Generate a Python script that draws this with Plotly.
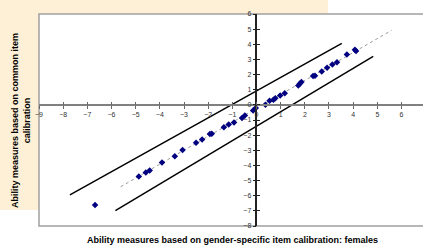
import plotly.graph_objects as go

# ---- data ----
female_x = [-6.68, -4.87, -4.58, -4.42, -3.91, -3.38, -3.06, -2.50, -2.25, -1.93, -1.85,
            -1.35, -1.15, -0.93, -0.60, -0.48, -0.14, -0.03, 0.37, 0.54, 0.70, 0.78,
            0.98, 1.17, 1.73, 1.80, 1.86, 2.34, 2.42, 2.70, 2.92, 3.14, 3.33, 3.74,
            4.07, 4.12]
common_y = [-6.62, -4.73, -4.46, -4.33, -3.80, -3.40, -2.98, -2.50, -2.28, -1.92, -1.90,
            -1.48, -1.30, -1.17, -0.86, -0.71, -0.38, -0.20, 0.00, 0.27, 0.34, 0.44,
            0.62, 0.77, 1.28, 1.41, 1.51, 1.90, 1.93, 2.20, 2.45, 2.67, 2.82, 3.33,
            3.64, 3.55]
trend_x = [-5.62, 5.59]
trend_y = [-5.41, 4.92]
upper_x = [-7.72, 3.53]
upper_y = [-5.94, 4.06]
lower_x = [-5.84, 4.83]
lower_y = [-6.98, 3.20]
x_ticks = list(range(-9, 7))
y_ticks = list(range(-8, 7))

x_title = "Ability measures based on gender-specific item calibration: females"
y_title = "Ability measures based on common item<br>calibration"

X_RANGE = [-9, 6.89]
Y_RANGE = [-8, 6]

fig = go.Figure()
fig.add_trace(go.Scatter(x=upper_x, y=upper_y, mode="lines",
                         line=dict(color="black", width=1.5), showlegend=False, hoverinfo="skip"))
fig.add_trace(go.Scatter(x=lower_x, y=lower_y, mode="lines",
                         line=dict(color="black", width=1.5), showlegend=False, hoverinfo="skip"))
fig.add_trace(go.Scatter(x=trend_x, y=trend_y, mode="lines",
                         line=dict(color="#9a9a9a", width=1, dash="dot"), showlegend=False))
fig.add_trace(go.Scatter(x=female_x, y=common_y, mode="markers",
                         marker=dict(symbol="diamond", size=5, color="#000080"),
                         showlegend=False))
# dummy trace so the overlay tick axes are drawn
fig.add_trace(go.Scatter(x=[None], y=[None], xaxis="x2", yaxis="y2", showlegend=False))

xpos = (0 - Y_RANGE[0]) / (Y_RANGE[1] - Y_RANGE[0])
ypos = (0 - X_RANGE[0]) / (X_RANGE[1] - X_RANGE[0])

tickfont = dict(family="Liberation Sans, Arial", size=7, color="#333333")
titlefont = dict(family="Liberation Sans, Arial", size=9, color="black", weight="bold")

common_x = dict(range=X_RANGE, tickvals=x_ticks, showgrid=False, zeroline=False,
                anchor="free", position=xpos, ticklen=3, tickwidth=1, tickcolor="#666666")
common_yax = dict(range=Y_RANGE, tickvals=y_ticks, showgrid=False, zeroline=False,
                  anchor="free", position=ypos, ticklen=3, tickwidth=1, tickcolor="#222222")

fig.update_layout(
    width=423, height=247,
    margin=dict(l=39, r=0, t=14, b=21),
    paper_bgcolor="white", plot_bgcolor="rgba(0,0,0,0)",
    xaxis=dict(**common_x, ticks="outside", showline=True, linecolor="#808080", linewidth=2,
               tickfont=tickfont),
    yaxis=dict(**common_yax, ticks="outside", showline=True, linecolor="#222222", linewidth=1.5,
               tickfont=tickfont),
    xaxis2=dict(**common_x, overlaying="x", matches="x", ticks="inside", showline=False,
                showticklabels=False),
    yaxis2=dict(**common_yax, overlaying="y", matches="y", ticks="inside", showline=False,
                showticklabels=False),
    shapes=[
        dict(type="rect", xref="paper", yref="paper", x0=-39/384, x1=(328-39)/384,
             y0=(226-210)/212, y1=1+14/212, fillcolor="#FDF0D6", line=dict(width=0), layer="below"),
        dict(type="rect", xref="paper", yref="paper", x0=0, x1=1.01, y0=0, y1=1,
             fillcolor="white", line=dict(color="#A0A0A0", width=1.5), layer="below"),
    ],
    annotations=[
        dict(text=x_title, xref="paper", yref="paper", x=(232-39)/384, y=-(240-226)/212,
             showarrow=False, xanchor="center", yanchor="middle", font=titlefont),
        dict(text=y_title, xref="paper", yref="paper", x=-(39-21)/384, y=(226-121)/212,
             showarrow=False, xanchor="center", yanchor="middle", textangle=-90, font=titlefont),
    ],
)

fig.write_html("out.html", config={"displayModeBar": False},
               post_script="document.body.style.margin='0';document.body.style.overflow='hidden';")
